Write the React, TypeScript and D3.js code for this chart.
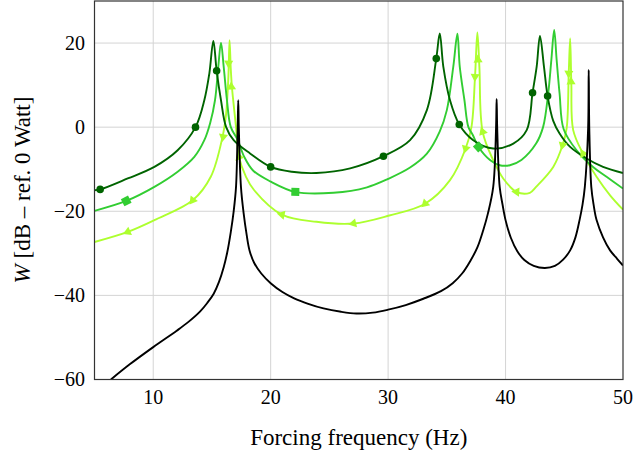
import * as d3 from "d3"
import React from "react"

// axis ticks
const xTicks = [10, 20, 30, 40, 50]
const yTicks = [-60, -40, -20, 0, 20]

// undamped reference response (black)
const blackCurve: [number, number][] = [
  [6.4, -60], [8, -56.4], [10, -52.3], [12, -48.4], [13, -46.3], [14, -43.8],
  [14.6, -41.8], [15.15, -39.6], [15.6, -36.8], [16.0, -33.3], [16.3, -29.8],
  [16.6, -25.0], [16.85, -20.0], [17.05, -14.2], [17.19, -0.3], [17.24, 6.4],
  [17.29, -0.3], [17.47, -14.2], [17.7, -20.5], [17.95, -25.5], [18.2, -29.3],
  [18.6, -32.3], [19.2, -34.8], [20, -37.1], [21, -39.2], [22, -40.7],
  [23.2, -42.0], [24.5, -43.1], [26, -43.9], [27.3, -44.3], [28.7, -44.1],
  [30, -43.4], [31.5, -42.3], [33, -40.8], [34.5, -39.0], [35.5, -37.1],
  [36.3, -34.8], [37.0, -31.8], [37.6, -28.6], [38.1, -24.5], [38.5, -20.5],
  [38.95, -14.2], [39.19, -0.3], [39.24, 6.7], [39.29, -0.3], [39.5, -14.2],
  [39.75, -18.5], [40.0, -22.1], [40.45, -26.3], [41.0, -29.5], [41.6, -31.6],
  [42.4, -33.0], [43.35, -33.5], [44.2, -33.0], [44.9, -31.5], [45.5, -29.3],
  [45.95, -26.2], [46.3, -22.1], [46.55, -18.5], [46.75, -14.2], [47.03, -0.3],
  [47.08, 13.6], [47.13, -0.3], [47.3, -14.2], [47.5, -18.5], [47.75, -22.1],
  [48.3, -26.2], [48.9, -29.3], [49.5, -31.3], [50, -32.9],
]

// dark green series (circles)
const darkCurve: [number, number][] = [
  [5, -15.0], [5.48, -14.8], [7.83, -12.2], [10.1, -9.45], [12.08, -5.5],
  [13.6, 0], [14.35, 6.4], [14.78, 12.8], [15.12, 20.5], [15.4, 13.4],
  [15.77, 6.4], [16.2, 0.07], [16.85, -3.1], [18.27, -6.3], [20.0, -9.45],
  [21.8, -10.6], [23.9, -10.9], [26.77, -9.8], [29.6, -6.9], [31.87, -3.1],
  [33.3, 4.05], [34.1, 16.3], [34.4, 22.3], [34.7, 14.4], [35.27, 6.4],
  [36.06, 0.64], [37.25, -3.1], [38.95, -5.07], [40.66, -3.9], [41.8, -0.7],
  [42.3, 8.2], [42.65, 14.4], [42.93, 21.7], [43.27, 14.4], [43.58, 7.4],
  [44.06, 1.5], [44.6, -1.5], [45.5, -4.7], [46.9, -7.45], [48.3, -9.45],
  [50, -10.9],
]
const darkMarks: [number, number][] = [
  [5.48, -14.8], [13.6, 0], [15.4, 13.4], [20.0, -9.45], [29.6, -6.9],
  [34.1, 16.3], [36.06, 0.64], [42.3, 8.2], [43.58, 7.4],
]

// medium green series (squares)
const midCurve: [number, number][] = [
  [5, -19.9], [7.7, -17.55], [10.1, -14.2], [12.08, -10.6], [13.5, -7.07],
  [14.35, -3.1], [14.85, 1.0], [15.26, 6.4], [15.54, 14.4], [15.77, 20.1],
  [16.0, 14.4], [16.28, 6.4], [16.6, 0.07], [17.2, -3.1], [17.75, -7.07],
  [18.5, -10.3], [19.97, -12.9], [22.1, -15.4], [25.35, -15.6], [28.2, -14.3],
  [30.0, -12.3], [31.87, -9.6], [33.3, -6.3], [34.4, -1.0], [35.0, 4.05],
  [35.55, 14.4], [35.9, 22.2], [36.1, 14.4], [36.5, 6.4], [36.83, 0.07],
  [37.2, -1.8], [37.7, -4.7], [38.7, -7.86], [39.5, -9.05], [40.37, -9.05],
  [41.35, -7.8], [42.6, -3.9], [43.2, 0.07], [43.63, 8.0], [43.9, 16],
  [44.14, 23.1], [44.35, 16], [44.6, 8.0], [44.95, -0.5], [46.05, -5.5],
  [47.45, -9.45], [48.6, -11.8], [50, -14.6],
]
const midMarks: [number, number][] = [
  [7.7, -17.55], [22.1, -15.4], [37.7, -4.7],
]

// light green series (triangles)
const lightCurve: [number, number][] = [
  [5, -27.3], [7.83, -24.9], [10.1, -22.1], [13.36, -17.4], [14.9, -11.8],
  [15.9, -2.3], [16.2, 3.0], [16.4, 12.0], [16.5, 20.7], [16.6, 14.0],
  [16.7, 9.6], [16.9, 4.0], [17.05, 0.07], [17.3, -7.07], [17.9, -11.8],
  [18.6, -15], [20.96, -20.8], [23.9, -22.5], [27.05, -22.9], [30.1, -21.0],
  [33.15, -18.2], [35.27, -12.6], [36.6, -5.07], [37.1, 0.07], [37.4, 12],
  [37.6, 22.5], [37.77, 14.4], [38.05, -1.1], [38.95, -7.86], [39.8, -12.2],
  [40.94, -15.4], [42.07, -15.6], [42.6, -14.2], [44.06, -9.45], [44.85, -4.3],
  [45.2, -0.3], [45.38, 12.8], [45.5, 21.1], [45.6, 10.4], [45.76, -0.7],
  [46.6, -6.3], [47.75, -11.8], [48.9, -16.2], [50, -19.6],
]
const lightMarks: [number, number][] = [
  [7.83, -24.9], [13.36, -17.4], [15.95, -2.3], [16.42, 15.2], [16.65, 9.6],
  [17.3, -7.07], [20.96, -20.8], [27.05, -22.9], [33.15, -18.2], [36.6, -5.07],
  [37.4, 12], [37.65, 16], [38.05, -1.1], [40.94, -15.4], [44.85, -4.3],
  [45.38, 12.8], [45.57, 10.8], [46.6, -6.3],
]

const W = 634
const H = 459
const left = 94.5
const right = 623
const top = 1
const bottom = 379.5

const x = d3.scaleLinear().domain([5, 50]).range([left, right])
const y = d3.scaleLinear().domain([-60, 30]).range([bottom, top])

const line = d3.line<[number, number]>()
  .x(d => x(d[0]))
  .y(d => y(d[1]))
  .curve(d3.curveCatmullRom.alpha(0.5))

// direction of the curve at a marker, in degrees
const angleAt = (curve: [number, number][], mx: number) => {
  let i = curve.findIndex(d => d[0] > mx)
  if (i < 1) i = curve.length - 1
  const a = curve[i - 1], b = curve[i]
  return Math.atan2(y(b[1]) - y(a[1]), x(b[0]) - x(a[0])) * 180 / Math.PI
}

const font = "'Liberation Serif', 'Times New Roman', serif"

export default function App() {
  const tri = d3.symbol(d3.symbolTriangle, 36)()
  return (
    <svg width={W} height={H} style={{ position: "absolute", left: 0, top: 0 }}
      fontFamily={font}>
      <rect width={W} height={H} fill="white" />
      <defs>
        <clipPath id="plot">
          <rect x={left} y={top} width={right - left} height={bottom - top} />
        </clipPath>
      </defs>
      {xTicks.slice(0, -1).map(t => (
        <line key={"gx" + t} x1={x(t)} x2={x(t)} y1={top} y2={bottom}
          stroke="#d4d4d4" strokeWidth={1} />
      ))}
      {yTicks.slice(1).map(t => (
        <line key={"gy" + t} x1={left} x2={right} y1={y(t)} y2={y(t)}
          stroke="#d4d4d4" strokeWidth={1} />
      ))}
      <g clipPath="url(#plot)" fill="none" strokeWidth={1.9}>
        <path d={line(lightCurve) || ""} stroke="#adff2f" />
        <path d={line(midCurve) || ""} stroke="#32cd32" />
        <path d={line(darkCurve) || ""} stroke="#006400" />
        {lightMarks.map((d, i) => (
          <path key={"lm" + i} d={tri || ""} fill="#adff2f" stroke="none"
            transform={`translate(${x(d[0])},${y(d[1])}) rotate(${angleAt(lightCurve, d[0]) + 180 + 90})`} />
        ))}
        {midMarks.map((d, i) => (
          <rect key={"mm" + i} x={-4} y={-4} width={8} height={8} fill="#32cd32" stroke="none"
            transform={`translate(${x(d[0])},${y(d[1])}) rotate(${angleAt(midCurve, d[0])})`} />
        ))}
        {darkMarks.map((d, i) => (
          <circle key={"dm" + i} cx={x(d[0])} cy={y(d[1])} r={3.8} fill="#006400" stroke="none" />
        ))}
        <path d={line(blackCurve) || ""} stroke="black" />
      </g>
      <rect x={left} y={top} width={right - left} height={bottom - top}
        fill="none" stroke="#333" strokeWidth={1.2} />
      {xTicks.map(t => (
        <text key={"tx" + t} x={x(t)} y={404} textAnchor="middle" fontSize={20}>{t}</text>
      ))}
      {yTicks.map(t => (
        <text key={"ty" + t} x={85} y={y(t) + 6.5} textAnchor="end" fontSize={20}>
          {t < 0 ? "\u2212" + Math.abs(t) : t}
        </text>
      ))}
      <text x={(left + right) / 2} y={445} textAnchor="middle" fontSize={23}>
        Forcing frequency (Hz)
      </text>
      <text transform="translate(30,190) rotate(-90)" textAnchor="middle" fontSize={23}>
        <tspan fontStyle="italic">W</tspan> [dB – ref. 0 Watt]
      </text>
    </svg>
  )
}
